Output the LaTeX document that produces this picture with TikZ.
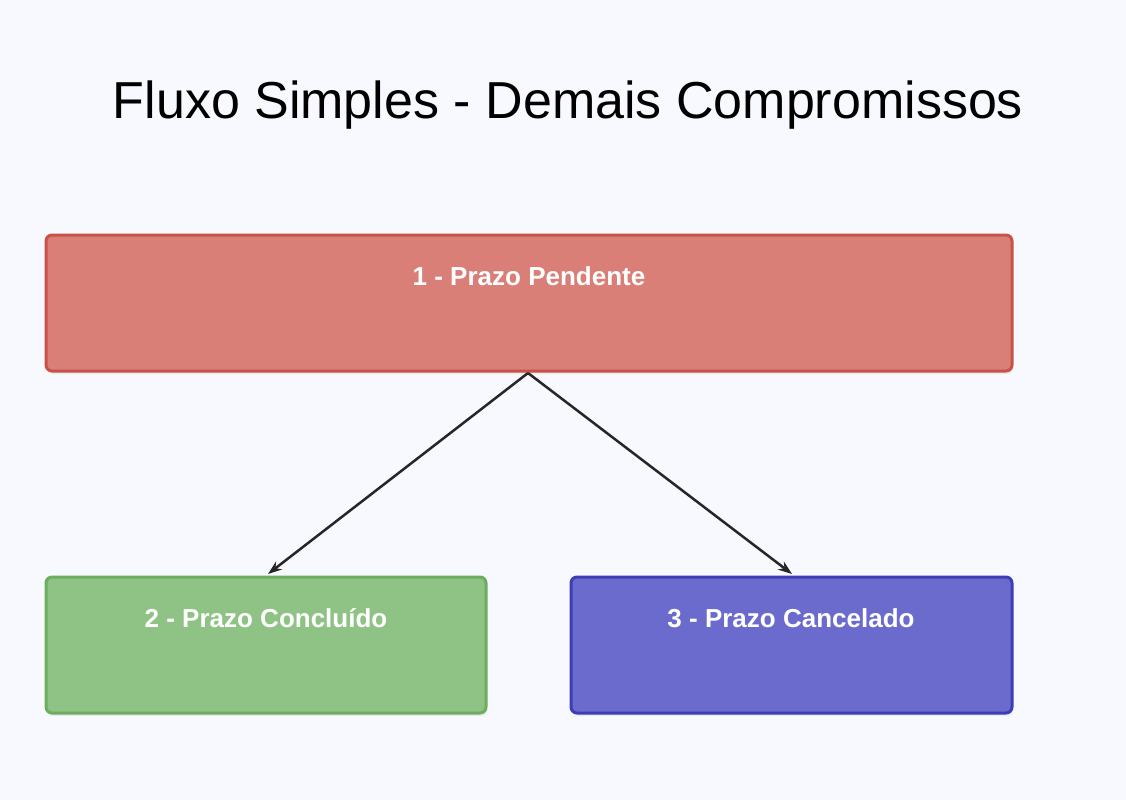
\documentclass[tikz,border=0pt]{standalone}
\usepackage{fontspec}
\setmainfont{Liberation Sans}
\usetikzlibrary{arrows.meta,shadows}
\definecolor{bg}{HTML}{F8F9FE}
\definecolor{rf}{HTML}{D97F78}\definecolor{rd}{HTML}{C9514A}
\definecolor{gf}{HTML}{8FC386}\definecolor{gd}{HTML}{6AAE5E}
\definecolor{bf}{HTML}{6B6BCD}\definecolor{bd}{HTML}{3D3DB8}
\begin{document}
\begin{tikzpicture}[x=1pt,y=-1pt,
 box/.style={draw=#1,line width=3pt,rounded corners=6pt,drop shadow={shadow xshift=1pt,shadow yshift=-3pt,opacity=0.12}},
 lbl/.style={text=white,font=\bfseries\fontsize{26}{30}\selectfont,anchor=base},
 arr/.style={-{Stealth[length=14pt,width=10pt]},line width=2.5pt,draw=black!85}]
\fill[bg] (0,0) rectangle (1126,800);
\useasboundingbox (0,0) rectangle (1126,800);
\node[font=\fontsize{52}{60}\selectfont,anchor=base] (title) at (568,118) {Fluxo Simples - Demais Compromissos};
\draw[box=rd,fill=rf] (46,235) rectangle (1012,371);
\draw[box=gd,fill=gf] (46,577) rectangle (486,713);
\draw[box=bd,fill=bf] (571,577) rectangle (1012,713);
\coordinate (b1) at (528,373);
\coordinate (b2) at (268,574);
\coordinate (b3) at (792,574);
\node[lbl] (t1) at (529,285) {1 - Prazo Pendente};
\node[lbl] (t2) at (266,627) {2 - Prazo Concluído};
\node[lbl] (t3) at (791,627) {3 - Prazo Cancelado};
\draw[arr] (b1) -- (b2);
\draw[arr] (b1) -- (b3);
\end{tikzpicture}
\end{document}
